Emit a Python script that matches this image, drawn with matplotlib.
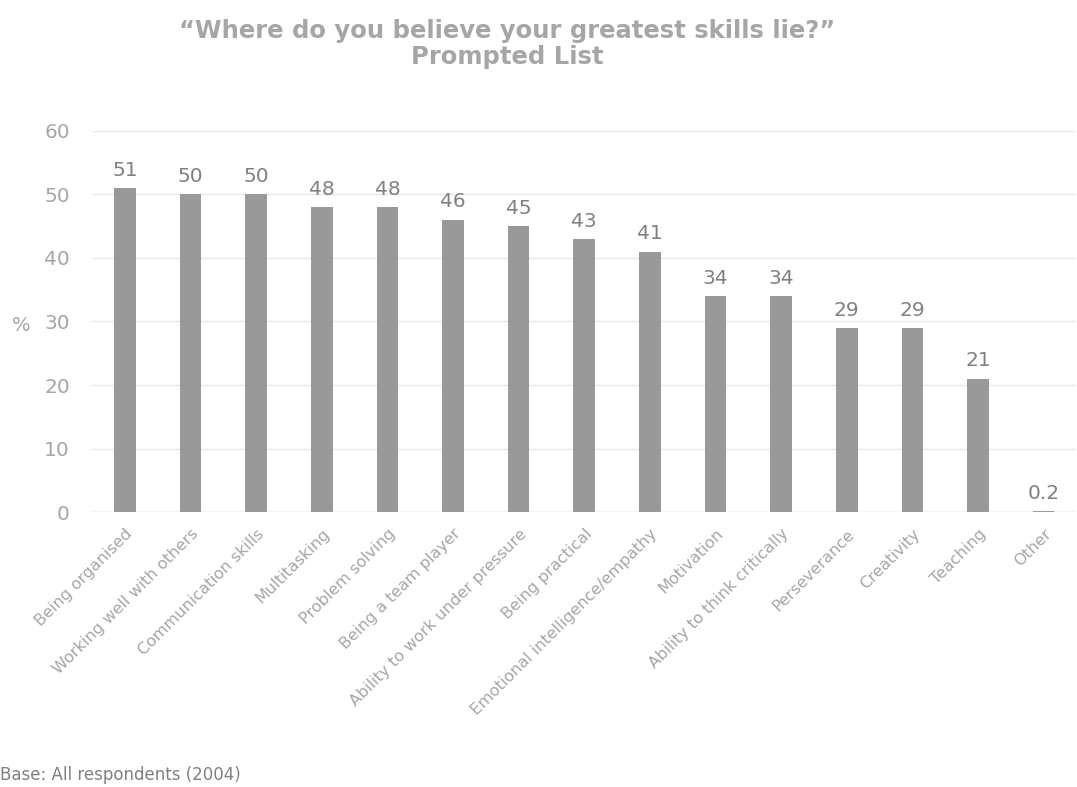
import matplotlib
matplotlib.use("Agg")
import matplotlib.pyplot as plt

plt.rcParams['font.family'] = ['DejaVu Sans']

skills = ["Being organised", "Working well with others", "Communication skills",
          "Multitasking", "Problem solving", "Being a team player",
          "Ability to work under pressure", "Being practical",
          "Emotional intelligence/empathy", "Motivation",
          "Ability to think critically", "Perseverance", "Creativity",
          "Teaching", "Other"]
pct = [51, 50, 50, 48, 48, 46, 45, 43, 41, 34, 34, 29, 29, 21, 0.2]
yticks = [0, 10, 20, 30, 40, 50, 60]

grey = "#a6a6a6"
fig = plt.figure(figsize=(10.77, 7.87), dpi=100)
ax = fig.add_axes([0.0855, 0.349, 0.914, 0.485])

x = range(len(skills))
bars = ax.bar(x, pct, width=0.33, color="#999999", zorder=2)
for b, v in zip(bars, pct):
    lbl = f"{v:g}"
    ax.text(b.get_x() + b.get_width() / 2, v + 1.3, lbl, ha="center", va="bottom",
            fontsize=14.5, color="#808080")

ax.set_ylim(0, 60)
ax.set_xlim(-0.5, len(skills) - 0.5)
ax.set_yticks(yticks)
ax.yaxis.grid(True, color="#e8e8e8", linewidth=1, zorder=0)
ax.tick_params(axis="y", length=0, labelsize=14.5, labelcolor=grey, pad=16)
ax.tick_params(axis="x", length=0, pad=10)
ax.set_xticks(list(x))
ax.set_xticklabels(skills, rotation=45, ha="right", rotation_mode="anchor",
                   fontsize=11.5, color=grey)
for s in ax.spines.values():
    s.set_visible(False)
ax.axhline(0, color="#d9d9d9", linewidth=1, zorder=1)

fig.text(0.011, 0.587, "%", fontsize=14, color=grey, ha="left", va="center")
fig.text(0.471, 0.944, "\u201cWhere do you believe your greatest skills lie?\u201d\nPrompted List",
         ha="center", va="center", fontsize=17.5, fontweight="bold", color=grey,
         linespacing=1.1)
fig.text(0.0, 0.004, "Base: All respondents (2004)", fontsize=12, color="#808080",
         ha="left", va="bottom")

fig.savefig("out.png", dpi=100)
